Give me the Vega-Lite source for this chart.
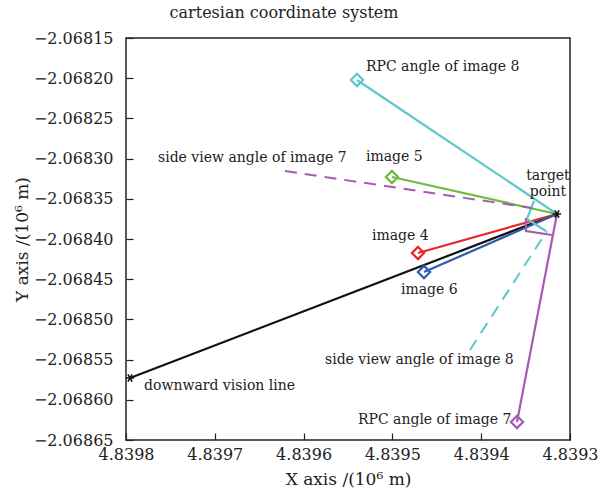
{
  "$schema": "https://vega.github.io/schema/vega-lite/v6.json",
  "width": 444,
  "height": 402,
  "autosize": {"type": "none"},
  "padding": {"left": 126, "top": 38, "right": 33, "bottom": 55},
  "background": "white",
  "title": {"text": "cartesian coordinate system", "font": "DejaVu Serif", "fontSize": 16, "fontWeight": "normal", "color": "#222", "offset": 9, "dx": -64},
  "config": {
    "view": {"stroke": "#222", "strokeWidth": 1.5},
    "axis": {"labelFont": "DejaVu Serif", "titleFont": "DejaVu Serif", "labelFontSize": 16, "titleFontSize": 17, "titleFontWeight": "normal", "labelColor": "#222", "titleColor": "#222", "grid": false, "domain": false, "tickColor": "#222", "tickSize": -7, "tickWidth": 1.2, "labelOverlap": false, "labelBound": false, "labelFlush": false}
  },
  "datasets": {
    "segs": [
      {"series": "downward", "order": 1, "x": 4.8397955, "y": -2.0685729},
      {"series": "downward", "order": 2, "x": 4.8393147, "y": -2.0683689},
      {"series": "image4", "order": 1, "x": 4.8394712, "y": -2.0684174},
      {"series": "image4", "order": 2, "x": 4.8393147, "y": -2.0683689},
      {"series": "image6", "order": 1, "x": 4.8394644, "y": -2.0684411},
      {"series": "image6", "order": 2, "x": 4.8393147, "y": -2.0683689},
      {"series": "image5", "order": 1, "x": 4.8395005, "y": -2.0683229},
      {"series": "image5", "order": 2, "x": 4.8393147, "y": -2.0683689},
      {"series": "rpc8", "order": 1, "x": 4.8395399, "y": -2.0682022},
      {"series": "rpc8", "order": 2, "x": 4.8393147, "y": -2.0683689},
      {"series": "rpc7", "order": 1, "x": 4.8393597, "y": -2.0686276},
      {"series": "rpc7", "order": 2, "x": 4.8393147, "y": -2.0683689},
      {"series": "mark8", "order": 1, "x": 4.8393406, "y": -2.0683527},
      {"series": "mark8", "order": 2, "x": 4.8393485, "y": -2.0683751},
      {"series": "mark8", "order": 3, "x": 4.8393271, "y": -2.0683901},
      {"series": "mark7", "order": 1, "x": 4.8393496, "y": -2.0683739},
      {"series": "mark7", "order": 2, "x": 4.8393496, "y": -2.0683901},
      {"series": "mark7", "order": 3, "x": 4.8393203, "y": -2.068395}
    ],
    "dashed": [
      {"series": "side7", "order": 1, "x": 4.839621, "y": -2.0683154},
      {"series": "side7", "order": 2, "x": 4.8393428, "y": -2.0683614},
      {"series": "side8", "order": 1, "x": 4.8394127, "y": -2.0685381},
      {"series": "side8", "order": 2, "x": 4.839326, "y": -2.0683901}
    ],
    "ends": [
      {"series": "image4", "x": 4.8394712, "y": -2.0684174},
      {"series": "image6", "x": 4.8394644, "y": -2.0684411},
      {"series": "image5", "x": 4.8395005, "y": -2.0683229},
      {"series": "rpc8", "x": 4.8395399, "y": -2.0682022},
      {"series": "rpc7", "x": 4.8393597, "y": -2.0686276}
    ],
    "stars": [
      {"x": 4.8397955, "y": -2.0685729},
      {"x": 4.8393147, "y": -2.0683689}
    ],
    "labels": [
      {"label": "RPC angle of image 8", "x": 4.8395298, "y": -2.0681861},
      {"label": "side view angle of image 7", "x": 4.839764, "y": -2.0682997},
      {"label": "image 5", "x": 4.8395298, "y": -2.068298},
      {"label": "image 4", "x": 4.839523, "y": -2.0683963},
      {"label": "image 6", "x": 4.8394904, "y": -2.0684634},
      {"label": "side view angle of image 8", "x": 4.8395759, "y": -2.0685505},
      {"label": "downward vision line", "x": 4.8397797, "y": -2.0685828},
      {"label": "RPC angle of image 7", "x": 4.8395388, "y": -2.0686251}
    ],
    "target": [
      {"label": "target", "x": 4.8393248, "y": -2.0683216},
      {"label": "point", "x": 4.8393248, "y": -2.0683415}
    ]
  },
  "encoding": {
    "x": {"field": "x", "type": "quantitative", "scale": {"domain": [4.8393, 4.8398], "reverse": true, "zero": false, "nice": false},
          "axis": {"values": [4.8393, 4.8394, 4.8395, 4.8396, 4.8397, 4.8398], "format": ".4f", "title": "X axis /(10⁶ m)", "labelPadding": 13, "titlePadding": 9}},
    "y": {"field": "y", "type": "quantitative", "scale": {"domain": [-2.06865, -2.06815], "zero": false, "nice": false},
          "axis": {"values": [-2.06865, -2.0686, -2.06855, -2.0685, -2.06845, -2.0684, -2.06835, -2.0683, -2.06825, -2.0682, -2.06815], "format": ".5f", "title": "Y axis /(10⁶ m)", "labelPadding": 20, "titlePadding": 2}}
  },
  "layer": [
    {
      "data": {"name": "segs"},
      "mark": {"type": "line", "strokeWidth": 2.2},
      "encoding": {
        "detail": {"field": "series"},
        "order": {"field": "order"},
        "color": {"field": "series", "type": "nominal", "legend": null,
          "scale": {"domain": ["downward", "image4", "image6", "image5", "rpc8", "rpc7", "mark8", "mark7", "side7", "side8"],
                    "range": ["#111111", "#e8262b", "#2b5dab", "#6cbd3c", "#5ec6cf", "#a45bb1", "#5ec6cf", "#a45bb1", "#a45bb1", "#5ec6cf"]}}
      }
    },
    {
      "data": {"name": "dashed"},
      "mark": {"type": "line", "strokeWidth": 2, "strokeDash": [12, 8]},
      "encoding": {
        "detail": {"field": "series"},
        "order": {"field": "order"},
        "color": {"field": "series", "type": "nominal", "legend": null}
      }
    },
    {
      "data": {"name": "ends"},
      "mark": {"type": "point", "shape": "diamond", "filled": false, "size": 150, "strokeWidth": 2.2, "opacity": 1},
      "encoding": {
        "color": {"field": "series", "type": "nominal", "legend": null}
      }
    },
    {
      "data": {"name": "stars"},
      "mark": {"type": "point", "shape": "M-1,0L1,0M-0.5,-0.866L0.5,0.866M-0.5,0.866L0.5,-0.866", "filled": false, "size": 70, "strokeWidth": 1.6, "color": "#111111", "opacity": 1}
    },
    {
      "data": {"name": "labels"},
      "mark": {"type": "text", "font": "DejaVu Serif", "fontSize": 14, "color": "#222", "baseline": "middle", "align": "left"},
      "encoding": {"text": {"field": "label"}}
    },
    {
      "data": {"name": "target"},
      "mark": {"type": "text", "font": "DejaVu Serif", "fontSize": 14, "color": "#222", "baseline": "middle", "align": "center"},
      "encoding": {"text": {"field": "label"}}
    }
  ]
}
